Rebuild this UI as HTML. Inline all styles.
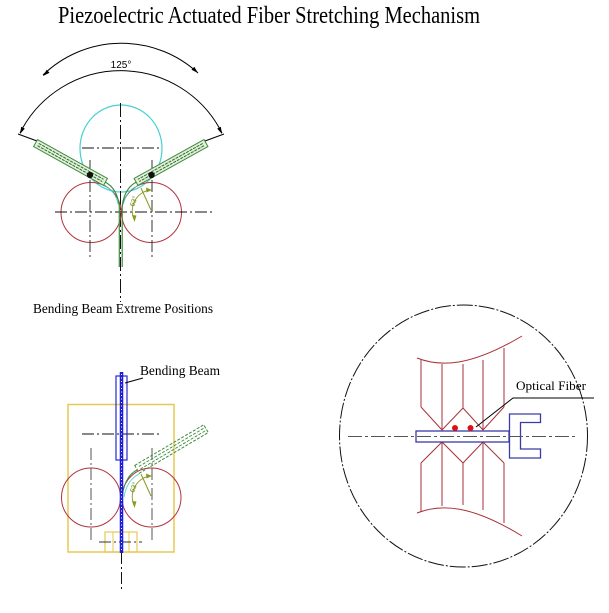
<!DOCTYPE html>
<html>
<head>
<meta charset="utf-8">
<style>
html,body{margin:0;padding:0;background:#fff;}
svg{display:block;}
</style>
</head>
<body>
<svg width="609" height="613" viewBox="0 0 609 613" xmlns="http://www.w3.org/2000/svg">
<rect width="609" height="613" fill="#fff"/>

<!-- Title -->
<text x="58" y="23" font-family="Liberation Serif, serif" font-size="24" textLength="422" lengthAdjust="spacingAndGlyphs" fill="#000">Piezoelectric Actuated Fiber Stretching Mechanism</text>

<!-- ================= TOP DIAGRAM ================= -->
<!-- outer arrow arc -->
<path d="M43,75 A113,113 0 0 1 198,73" fill="none" stroke="#000" stroke-width="1"/>
<polygon points="43,76 49.5,72.7 46.7,69.7" fill="#000"/>
<polygon points="198,73 191.5,69.7 194.3,66.8" fill="#000"/>
<!-- inner 125 dimension arc -->
<path d="M20,133 A113,113 0 0 1 222,133" fill="none" stroke="#000" stroke-width="1"/>
<polygon points="20,134 24.8,128.6 21.2,126.8" fill="#000"/>
<polygon points="222,134 217.2,128.6 220.8,126.8" fill="#000"/>
<line x1="18" y1="134" x2="37" y2="141" stroke="#000" stroke-width="1"/>
<line x1="224" y1="134" x2="205" y2="141" stroke="#000" stroke-width="1"/>
<rect x="109" y="60" width="24" height="8" fill="#fff"/>
<text x="121" y="68" font-family="Liberation Sans, sans-serif" font-size="10" text-anchor="middle" fill="#000">125°</text>

<!-- cyan circle -->
<ellipse cx="121" cy="148.5" rx="41" ry="43.5" fill="none" stroke="#48d0d0" stroke-width="1.2"/>
<!-- centerlines -->
<line x1="82" y1="148" x2="162" y2="148" stroke="#111" stroke-width="1" stroke-dasharray="12 3 2 3"/>
<line x1="120.5" y1="103" x2="120.5" y2="302" stroke="#111" stroke-width="1" stroke-dasharray="14 3 2 3"/>

<!-- red rollers -->
<circle cx="91" cy="212.5" r="30" fill="none" stroke="#b0343c" stroke-width="1"/>
<circle cx="151.5" cy="212.5" r="30" fill="none" stroke="#b0343c" stroke-width="1"/>
<line x1="55" y1="212" x2="213" y2="212" stroke="#111" stroke-width="1" stroke-dasharray="12 3 2 3"/>
<line x1="90" y1="160" x2="90" y2="258" stroke="#333" stroke-width="1" stroke-dasharray="12 3 2 3"/>
<line x1="152" y1="160" x2="152" y2="258" stroke="#333" stroke-width="1" stroke-dasharray="12 3 2 3"/>

<!-- beams -->
<g id="lbeam">
  <g transform="translate(70.5,162.5) rotate(29)">
    <rect x="-40" y="-4" width="80" height="8" fill="#e2f0da" stroke="#3d8b3d" stroke-width="1"/>
    <line x1="-37" y1="-1.3" x2="37" y2="-1.3" stroke="#2e6b2e" stroke-width="1" stroke-dasharray="3 1"/>
    <line x1="-37" y1="1.3" x2="37" y2="1.3" stroke="#2e6b2e" stroke-width="1" stroke-dasharray="3 1"/>
  </g>
  <circle cx="90" cy="175" r="3.2" fill="#111"/>
  <path d="M105,182 Q117,188 119.3,206 L119.3,267" fill="none" stroke="#3d8b3d" stroke-width="1.2"/>
  <path d="M104,186 Q115,190 118,204" fill="none" stroke="#48d0d0" stroke-width="0.8"/>
</g>
<g transform="translate(241.5,0) scale(-1,1)">
  <g transform="translate(70.5,162.5) rotate(29)">
    <rect x="-40" y="-4" width="80" height="8" fill="#e2f0da" stroke="#3d8b3d" stroke-width="1"/>
    <line x1="-37" y1="-1.3" x2="37" y2="-1.3" stroke="#2e6b2e" stroke-width="1" stroke-dasharray="3 1"/>
    <line x1="-37" y1="1.3" x2="37" y2="1.3" stroke="#2e6b2e" stroke-width="1" stroke-dasharray="3 1"/>
  </g>
  <circle cx="90" cy="175" r="3.2" fill="#111"/>
  <path d="M105,182 Q117,188 119.3,206 L119.3,267" fill="none" stroke="#3d8b3d" stroke-width="1.2"/>
  <path d="M104,186 Q115,190 118,204" fill="none" stroke="#48d0d0" stroke-width="0.8"/>
</g>

<!-- 63 deg annotation top -->
<g id="ang">
  <path d="M150,190 A21,21 0 0 0 134,219" fill="none" stroke="#8a9a1e" stroke-width="1"/>
  <polygon points="152,190 146,187.5 146.5,192.5" fill="#8a9a1e"/>
  <polygon points="134.5,222 132,215 136.5,215.5" fill="#8a9a1e"/>
  <line x1="141" y1="188" x2="151" y2="210" stroke="#8a9a1e" stroke-width="1"/>
  <text x="0" y="0" transform="translate(134,207) rotate(-70)" font-family="Liberation Sans, sans-serif" font-size="7" fill="#6a8a1e">63°</text>
</g>

<!-- caption -->
<text x="33" y="313" font-family="Liberation Serif, serif" font-size="14" textLength="180" lengthAdjust="spacingAndGlyphs" fill="#000">Bending Beam Extreme Positions</text>

<!-- ================= BOTTOM-LEFT DIAGRAM ================= -->
<rect x="68" y="404.5" width="106" height="147.5" fill="none" stroke="#e8c850" stroke-width="1.5"/>
<line x1="82" y1="434" x2="160" y2="434" stroke="#111" stroke-width="1" stroke-dasharray="12 3 2 3"/>
<circle cx="91" cy="497.5" r="29.5" fill="none" stroke="#b0343c" stroke-width="1"/>
<circle cx="151.5" cy="497.5" r="29.5" fill="none" stroke="#b0343c" stroke-width="1"/>
<line x1="91" y1="448" x2="91" y2="543" stroke="#555" stroke-width="1" stroke-dasharray="12 3 2 3"/>
<line x1="152" y1="448" x2="152" y2="543" stroke="#555" stroke-width="1" stroke-dasharray="12 3 2 3"/>
<!-- small yellow clamp -->
<rect x="105" y="532" width="32" height="20" fill="none" stroke="#e8c850" stroke-width="1.2"/>
<line x1="113" y1="532" x2="113" y2="552" stroke="#e8c850" stroke-width="1"/>
<line x1="129" y1="532" x2="129" y2="552" stroke="#e8c850" stroke-width="1"/>
<line x1="99" y1="542" x2="142" y2="542" stroke="#333" stroke-width="1" stroke-dasharray="12 3 2 3"/>
<line x1="121.5" y1="552" x2="121.5" y2="591" stroke="#111" stroke-width="1" stroke-dasharray="12 3 2 3"/>

<!-- green dashed beam (bottom) -->
<g transform="translate(171.5,449) rotate(-30.5)">
  <rect x="-40" y="-4.5" width="80" height="9" fill="none" stroke="#3d8b3d" stroke-width="1" stroke-dasharray="3 1.5"/>
  <line x1="-37" y1="-1.5" x2="38" y2="-1.5" stroke="#3d8b3d" stroke-width="0.9" stroke-dasharray="3 1.5"/>
  <line x1="-37" y1="1.5" x2="38" y2="1.5" stroke="#3d8b3d" stroke-width="0.9" stroke-dasharray="3 1.5"/>
</g>
<path d="M137,470 Q125,476 122.5,495" fill="none" stroke="#3d8b3d" stroke-width="1"/>
<path d="M139,474 Q127,480 124,497" fill="none" stroke="#48d0d0" stroke-width="0.8"/>
<g transform="translate(0,286)">
  <path d="M150,190 A21,21 0 0 0 134,219" fill="none" stroke="#8a9a1e" stroke-width="1"/>
  <polygon points="152,190 146,187.5 146.5,192.5" fill="#8a9a1e"/>
  <polygon points="134.5,222 132,215 136.5,215.5" fill="#8a9a1e"/>
  <line x1="141" y1="188" x2="151" y2="210" stroke="#8a9a1e" stroke-width="1"/>
  <text x="0" y="0" transform="translate(134,207) rotate(-70)" font-family="Liberation Sans, sans-serif" font-size="7" fill="#6a8a1e">63°</text>
</g>

<!-- blue bending beam -->
<rect x="116" y="376" width="11" height="84" fill="none" stroke="#2828c8" stroke-width="1.2"/>
<line x1="121.5" y1="372" x2="121.5" y2="553" stroke="#1c1cd8" stroke-width="3.5"/>
<line x1="121.5" y1="374" x2="121.5" y2="552" stroke="#fff" stroke-width="1" stroke-dasharray="1 2.5"/>
<!-- label -->
<line x1="125" y1="383" x2="143" y2="378" stroke="#000" stroke-width="1"/>
<text x="140" y="375" font-family="Liberation Serif, serif" font-size="13.5" textLength="80" lengthAdjust="spacingAndGlyphs" fill="#000">Bending Beam</text>

<!-- ================= RIGHT DIAGRAM ================= -->
<ellipse cx="463.5" cy="436" rx="124" ry="131" fill="none" stroke="#111" stroke-width="1" stroke-dasharray="16 2 2 2"/>

<g stroke="#a8323a" stroke-width="1" fill="none">
  <path d="M417,358 C440,367 470,367 522,336"/>
  <path d="M417,513 C440,504 470,504 522,536"/>
  <line x1="421" y1="359" x2="421" y2="407"/>
  <line x1="442" y1="364" x2="442" y2="430"/>
  <line x1="463" y1="364" x2="463" y2="408"/>
  <line x1="483" y1="360" x2="483" y2="430"/>
  <line x1="504" y1="348" x2="504" y2="407"/>
  <polyline points="421,407 442,430 463,408 483,430 504,407"/>
  <polyline points="421,463 442,442 463,463 483,442 504,463"/>
  <line x1="421" y1="463" x2="421" y2="512"/>
  <line x1="442" y1="442" x2="442" y2="506"/>
  <line x1="463" y1="463" x2="463" y2="505"/>
  <line x1="483" y1="442" x2="483" y2="510"/>
  <line x1="504" y1="463" x2="504" y2="523"/>
</g>

<!-- blue rod and clamp -->
<rect x="416" y="431" width="93" height="11" fill="#fff" stroke="#3a3aa8" stroke-width="1.3"/>
<polygon points="509.5,414 540.5,414 540.5,422.5 520.5,422.5 520.5,449 540.5,449 540.5,458 509.5,458" fill="none" stroke="#3a3aa8" stroke-width="1.3"/>
<line x1="348" y1="436.5" x2="578" y2="436.5" stroke="#555" stroke-width="1" stroke-dasharray="14 3 3 3"/>

<!-- red dots -->
<circle cx="455" cy="428" r="3" fill="#e01010"/>
<circle cx="470.5" cy="428" r="3" fill="#e01010"/>

<!-- optical fiber label -->
<polyline points="476,427 513,398 594,398" fill="none" stroke="#000" stroke-width="1"/>
<text x="516" y="390" font-family="Liberation Serif, serif" font-size="13" textLength="70" lengthAdjust="spacingAndGlyphs" fill="#000">Optical Fiber</text>

</svg>
</body>
</html>
